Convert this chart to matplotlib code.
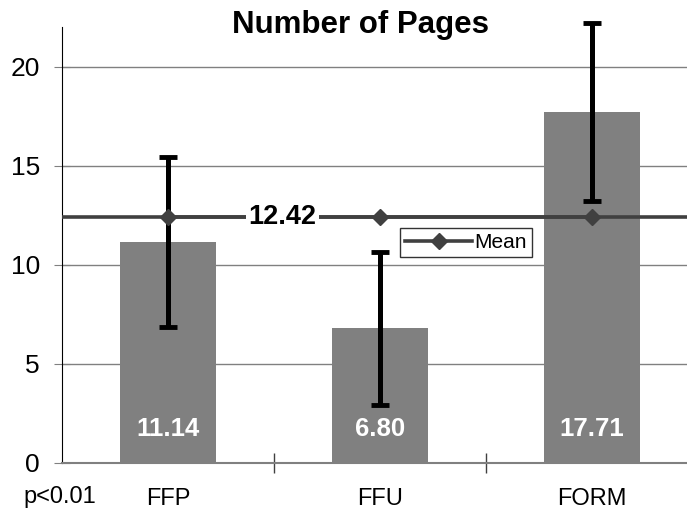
import matplotlib.pyplot as plt

plt.rcParams['font.family'] = ['Liberation Sans', 'DejaVu Sans']

categorias = ['FFP', 'FFU', 'FORM']
medias = [11.14, 6.80, 17.71]
erros = [4.3, 3.85, 4.5]
rotulos = ['11.14', '6.80', '17.71']
media_geral = 12.42

fig = plt.figure(figsize=(6.87, 5.18), dpi=100)
ax = fig.add_axes([62 / 687, 55 / 518, 625 / 687, 436 / 518])

x = list(range(len(categorias)))

# grade e eixos
ax.set_ylim(0, 22)
ax.set_xlim(-0.5, 2.448)
ax.set_yticks([0, 5, 10, 15, 20])
ax.yaxis.grid(True, color='#808080', linewidth=1.0)
ax.set_axisbelow(True)
for lado in ['top', 'right']:
    ax.spines[lado].set_visible(False)
ax.spines['left'].set_color('black')
ax.spines['bottom'].set_color('#808080')
ax.spines['bottom'].set_linewidth(1.5)
ax.tick_params(axis='y', direction='inout', length=12, color='#808080', labelsize=19, pad=10)
ax.set_xticks([0.5, 1.5])
ax.set_xticklabels([])
ax.tick_params(axis='x', direction='inout', length=14, color='#404040', width=1)

# barras
ax.bar(x, medias, width=0.455, color='#808080', zorder=2)
ax.errorbar(x, medias, yerr=erros, fmt='none', ecolor='black', elinewidth=3.6,
            capsize=6.5, capthick=3.5, zorder=3, clip_on=False)

# linha da média
ax.plot([-0.5, 2.448], [media_geral, media_geral], color='#404040', linewidth=2.6, zorder=4)
ax.plot(x, [media_geral] * len(x), color='#404040', linewidth=2.6, marker='D',
        markersize=8, label='Mean', zorder=4)
ax.text(0.54, media_geral, '%.2f' % media_geral, fontsize=19.5, fontweight='bold',
        ha='center', va='center', zorder=5,
        bbox=dict(facecolor='white', edgecolor='none', pad=2))

# rótulos das barras
for xi, r in zip(x, rotulos):
    ax.text(xi, 1.7, r, color='white', fontsize=18.5, fontweight='bold',
            ha='center', va='center', zorder=5)

# categorias
for xi, c in zip(x, categorias):
    ax.text(xi, -1.8, c, fontsize=17, ha='center', va='center', clip_on=False)
ax.text(-0.68, -1.7, 'p<0.01', fontsize=17, ha='left', va='center', clip_on=False)

leg = ax.legend(loc='upper left', bbox_to_anchor=(0.541, 0.539), fontsize=15,
                frameon=True, fancybox=False, handlelength=3.2, handletextpad=0.1,
                borderpad=0.25, borderaxespad=0)
leg.get_frame().set_edgecolor('black')
leg.get_frame().set_linewidth(1.0)

fig.text(361 / 687, 1 - 25 / 518, 'Number of Pages', fontsize=22.5, fontweight='bold',
         ha='center', va='center')

fig.savefig('out.png', dpi=100)
